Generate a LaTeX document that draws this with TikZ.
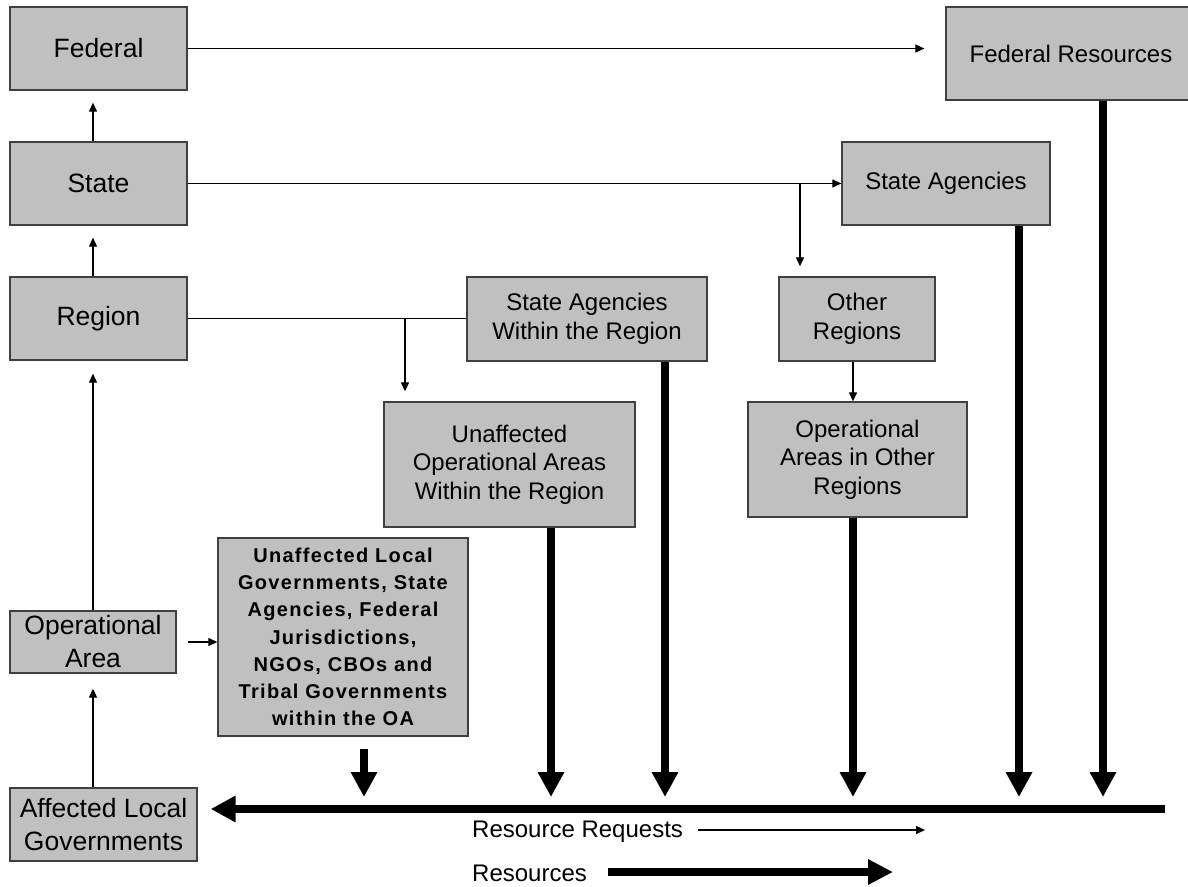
\documentclass[tikz,border=0pt]{standalone}
\usepackage{fontspec}
\setmainfont{Liberation Sans}
\newfontfamily\boldspaced[LetterSpace=6.5]{Liberation Sans}
\usetikzlibrary{arrows.meta,calc}
\definecolor{boxgray}{RGB}{192,192,192}
\definecolor{boxedge}{RGB}{64,64,64}
\tikzset{
  box/.style={draw=boxedge, line width=1.3pt, fill=boxgray, align=center, inner sep=0pt,
    font=\fontsize{24}{28.5}\selectfont},
  bigtext/.style={font=\fontsize{26.5}{33}\selectfont},
  thinline/.style={line width=1.2pt, draw=black},
  thinarrow/.style={line width=1.2pt, draw=black, -{Triangle[length=9pt,width=8pt]}},
  thickarrow/.style={line width=7.5pt, draw=black, -{Triangle[length=25pt,width=25pt]}},
  legendtext/.style={anchor=west, inner sep=0pt, font=\fontsize{24}{28}\selectfont},
}
\begin{document}
\begin{tikzpicture}[x=1pt,y=-1pt]
\useasboundingbox (0,0) rectangle (1188,886);
\fill[white] (0,0) rectangle (1188,886);

% boxes
\node[box,bigtext,minimum width=177pt,minimum height=83pt] (fed) at (98.5,48.5) {Federal};
\node[box,bigtext,minimum width=177pt,minimum height=83pt] (state) at (98.5,183.5) {State};
\node[box,bigtext,minimum width=177pt,minimum height=83pt] (region) at (98.5,318.5) {Region};
\node[box,bigtext,minimum width=166pt,minimum height=62pt] (oa) at (93,642) {Operational\\Area};
\node[box,bigtext,minimum width=187pt,minimum height=73pt] (alg) at (103.5,824.5) {Affected Local\\Governments};
\node[box,minimum width=250pt,minimum height=198pt,
      font=\boldspaced\bfseries\fontsize{20}{27.2}\selectfont] (ulg) at (343,637)
  {Unaffected Local\\Governments, State\\Agencies, Federal\\Jurisdictions,\\NGOs, CBOs and\\Tribal Governments\\within the OA};
\node[box,minimum width=250pt,minimum height=93pt] (fedres) at (1071,53.5) {Federal Resources};
\node[box,minimum width=208pt,minimum height=83pt] (stag) at (946,183.5) {State Agencies};
\node[box,minimum width=240pt,minimum height=84pt] (sawr) at (587,319) {State Agencies\\Within the Region};
\node[box,minimum width=156pt,minimum height=84pt] (othr) at (857,319) {Other\\Regions};
\node[box,minimum width=251pt,minimum height=125pt] (uoa) at (509.5,464.5) {Unaffected\\Operational Areas\\Within the Region};
\node[box,minimum width=219pt,minimum height=115pt] (oaor) at (857.5,459.5) {Operational\\Areas in Other\\Regions};

% thin connectors (requests)
\draw[thinarrow] ([xshift=-5.5pt]state.north) -- ([xshift=-5.5pt,yshift=-12pt]fed.south);
\draw[thinarrow] ([xshift=-5.5pt]region.north) -- ([xshift=-5.5pt,yshift=-12pt]state.south);
\draw[thinarrow] (oa.north) -- ([xshift=-5.5pt,yshift=-13pt]region.south);
\draw[thinarrow] ([xshift=-10.5pt]alg.north) -- ([yshift=-15pt]oa.south);
\draw[thinarrow] ([xshift=11pt]oa.east) -- (oa.east -| ulg.west);
\draw[thinarrow] (fed.east) -- ($(fed.east -| fedres.west)+(-21,0)$);
\draw[thinarrow] (state.east) -- (state.east -| stag.west);
\coordinate (sb) at (800,183.5);
\draw[thinarrow] (sb) -- ($(sb |- othr.north)+(0,-10)$);
\draw[thinline] (region.east) -- (region.east -| sawr.west);
\coordinate (rb) at (405,318.5);
\draw[thinarrow] (rb) -- ($(rb |- uoa.north)+(0,-10)$);
\coordinate (ob) at ($(othr.south)+(-4,0)$);
\draw[thinarrow] (ob) -- (ob |- oaor.north);

% thick connectors (resources)
\coordinate (mainR) at (1165,809);
\coordinate (tipline) at (0,797);
\coordinate (x364) at (364,0);
\coordinate (x551) at (551,0);
\coordinate (x665) at (665,0);
\coordinate (x853) at (853,0);
\coordinate (x1019) at (1019,0);
\coordinate (x1103) at (1103,0);
\draw[thickarrow] (mainR) -- ($(alg.east |- mainR)+(13,0)$);
\draw[thickarrow] ($(ulg.south -| x364)+(0,12)$) -- (tipline -| x364);
\draw[thickarrow] (uoa.south -| x551) -- (tipline -| x551);
\draw[thickarrow] (sawr.south -| x665) -- (tipline -| x665);
\draw[thickarrow] (oaor.south -| x853) -- (tipline -| x853);
\draw[thickarrow] (stag.south -| x1019) -- (tipline -| x1019);
\draw[thickarrow] (fedres.south -| x1103) -- (tipline -| x1103);

% legend
\node[legendtext] (rrq) at (472,832) {Resource Requests};
\coordinate (rrqend) at (925,830);
\draw[thinarrow] ($(rrq.east |- rrqend)+(15,0)$) -- (rrqend);
\node[legendtext] (res) at (472,873) {Resources};
\coordinate (resend) at (893,872);
\draw[line width=7.5pt, draw=black, -{Triangle[length=25pt,width=24pt]}] ($(res.east |- resend)+(21,0)$) -- (resend);
\end{tikzpicture}
\end{document}
